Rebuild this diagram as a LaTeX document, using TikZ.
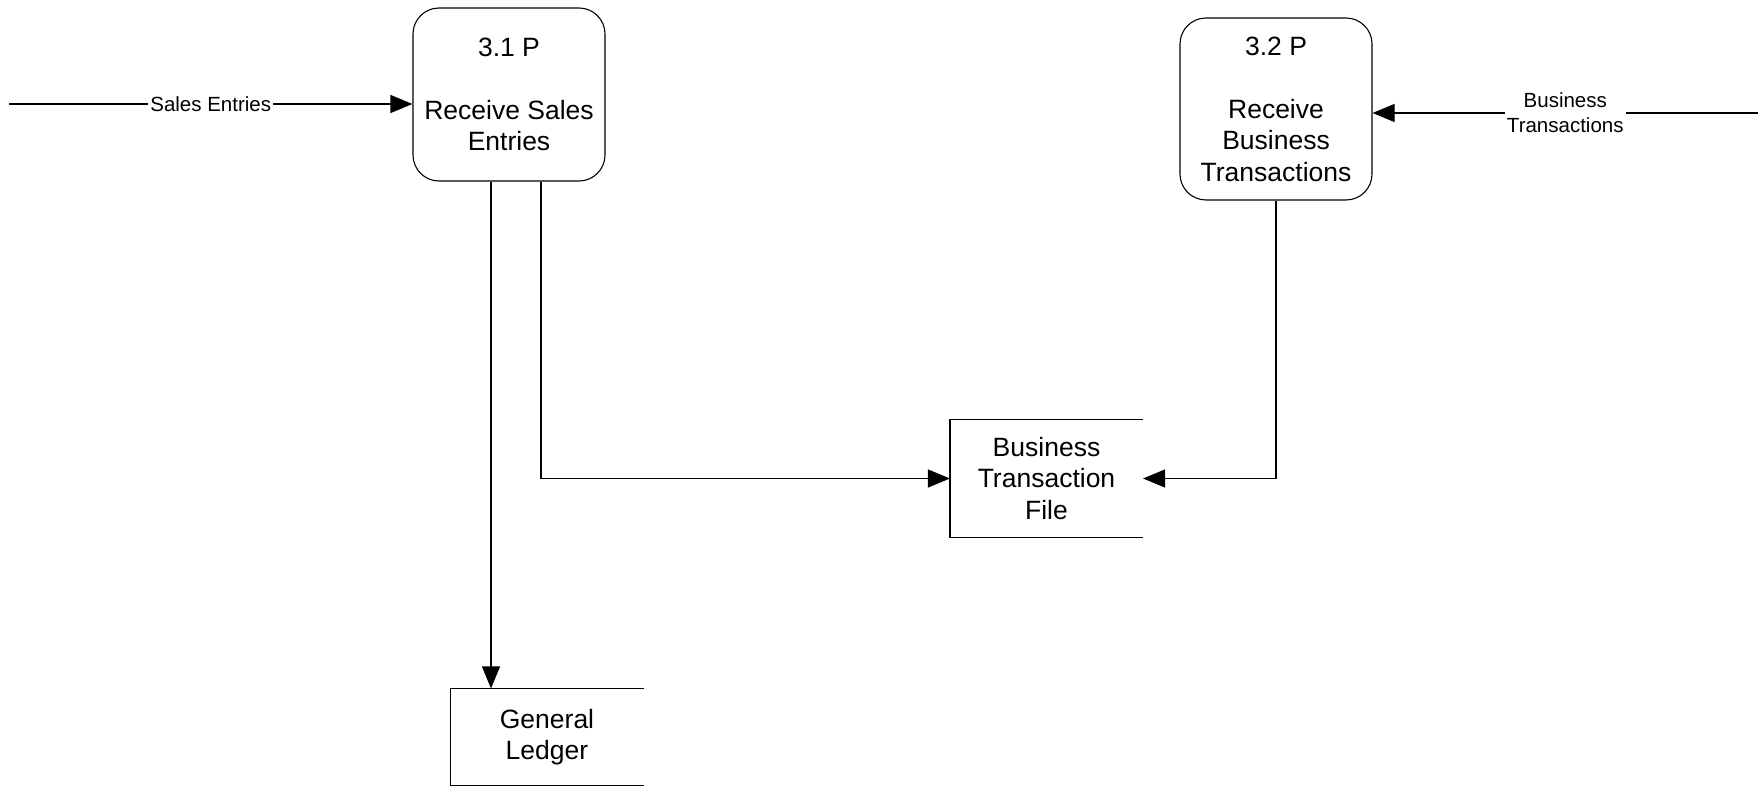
\documentclass[tikz,border=0pt]{standalone}
\usepackage{fontspec}
\setmainfont{Liberation Sans}
\usetikzlibrary{arrows.meta}
\begin{document}
\begin{tikzpicture}[x=1pt,y=-1pt,
  line width=1.1pt,
  proc/.style={draw, rounded corners=26pt, minimum width=192pt, align=center,
    font=\fontsize{26.5}{31.5}\selectfont, inner sep=0pt},
  store/.style={minimum width=192pt, align=center, inner sep=0pt,
    font=\fontsize{26.5}{31.5}\selectfont},
  flow/.style={-{Triangle[length=22pt,width=18pt]}},
  flowlabel/.style={fill=white, inner sep=2pt, align=center,
    font=\fontsize{20.5}{25}\selectfont}]
\useasboundingbox (0,0) rectangle (1759,786);

% processes
\node[proc, minimum height=173pt] (p31) at (509,94.5)
  {3.1 P\\[31.5pt]Receive Sales\\Entries};
\node[proc, minimum height=182pt] (p32) at (1276,109)
  {3.2 P\\[31.5pt]Receive\\Business\\Transactions};

% data stores (open on the right)
\node[store, minimum height=117pt] (btf) at (1046.5,478.5)
  {Business\\Transaction\\File};
\draw (btf.north east) -- (btf.north west) -- (btf.south west) -- (btf.south east);
\node[store, minimum height=96pt] (gl) at (547,737) {General\\Ledger};
\draw (gl.north east) -- (gl.north west) -- (gl.south west) -- (gl.south east);

% external flows
\coordinate (se) at (9,104);
\draw[flow] (se) -- node[flowlabel] {Sales Entries} (se -| p31.west);
\coordinate (bt) at (1758,113);
\draw[flow] (bt) -- node[flowlabel] {Business\\Transactions} (bt -| p32.east);

% internal flows
\draw[flow] ([xshift=-18pt]p31.south) -- ([xshift=-18pt]p31.south |- gl.north);
\draw[flow] ([xshift=32pt]p31.south) |- (btf.west);
\draw[flow] (p32.south) |- (btf.east);
\end{tikzpicture}
\end{document}
